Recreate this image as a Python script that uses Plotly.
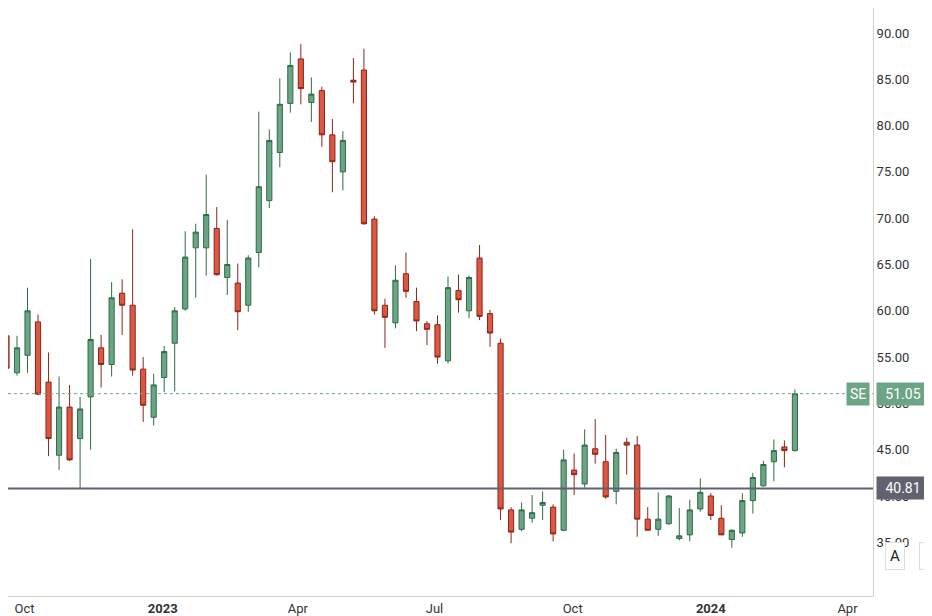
import pandas as pd
import plotly.graph_objects as go

# weekly bars, starting week of 2022-09-19
start = "2022-09-19"
opens = [57.3, 53.3, 55.2, 58.8, 52.3, 44.4, 49.6, 46.2, 50.7, 56.0,
         54.2, 61.9, 60.6, 53.7, 48.5, 52.8, 56.5, 60.2, 66.8, 66.8,
         68.9, 63.6, 63.0, 60.6, 66.3, 71.9, 77.1, 82.4, 87.2, 82.5,
         83.8, 79.0, 75.0, 84.9, 86.0, 69.9, 60.6, 58.7, 64.0, 61.0,
         58.6, 58.5, 54.6, 62.2, 60.0, 65.7, 59.7, 56.5, 38.5, 36.4,
         37.6, 39.0, 38.8, 36.3, 42.8, 41.3, 45.1, 43.7, 40.5, 45.8,
         45.5, 37.5, 36.4, 37.0, 35.4, 35.8, 38.6, 40.0, 37.6, 35.3,
         36.0, 39.5, 41.1, 43.7, 45.3, 44.9]
highs = [58.0, 57.3, 62.5, 59.6, 55.5, 52.9, 52.0, 50.7, 65.6, 57.4,
         63.1, 63.4, 68.8, 55.0, 53.2, 56.2, 60.4, 68.6, 69.4, 74.7,
         71.2, 69.8, 65.1, 66.0, 81.5, 79.6, 85.1, 87.9, 88.8, 85.2,
         84.2, 80.7, 79.4, 87.3, 88.3, 70.2, 61.3, 64.9, 66.3, 62.5,
         58.9, 59.5, 63.7, 63.9, 63.8, 67.1, 60.1, 57.0, 38.8, 39.3,
         40.1, 40.5, 39.1, 45.0, 44.6, 47.2, 48.3, 46.6, 45.1, 46.3,
         46.5, 38.8, 40.4, 40.1, 38.7, 39.6, 41.9, 40.3, 39.0, 36.4,
         40.3, 42.5, 43.8, 46.1, 46.0, 51.5]
lows = [54.0, 53.0, 53.3, 50.9, 44.3, 42.8, 43.8, 40.8, 45.0, 51.7,
        52.9, 57.4, 53.0, 48.0, 47.6, 51.2, 51.3, 60.0, 61.4, 63.8,
        63.8, 61.7, 57.9, 59.9, 64.7, 71.1, 75.5, 81.4, 82.3, 80.4,
        77.7, 72.8, 73.0, 82.4, 69.3, 59.6, 56.0, 58.1, 61.4, 57.8,
        56.3, 54.3, 54.3, 59.8, 59.2, 59.0, 56.1, 37.4, 34.9, 36.2,
        37.1, 37.4, 35.1, 36.2, 40.1, 40.9, 43.5, 39.7, 39.1, 42.3,
        35.6, 36.3, 35.7, 36.9, 35.2, 35.1, 38.3, 37.4, 35.8, 34.4,
        35.6, 38.1, 41.0, 41.6, 43.1, 44.8]
closes = [53.8, 56.0, 60.0, 51.0, 46.2, 49.6, 43.9, 49.4, 56.9, 54.2,
          61.4, 60.6, 53.6, 49.8, 52.0, 55.6, 60.0, 65.8, 68.5, 70.4,
          63.9, 65.0, 59.9, 65.7, 73.4, 78.4, 82.3, 86.5, 84.0, 83.4,
          79.0, 76.1, 78.4, 84.7, 69.4, 60.0, 59.3, 63.3, 62.1, 58.9,
          58.0, 55.0, 62.5, 61.2, 63.6, 59.4, 57.6, 38.6, 36.1, 38.5,
          38.2, 39.3, 35.9, 43.9, 42.3, 45.5, 44.5, 39.9, 44.7, 45.5,
          37.5, 36.3, 37.5, 40.0, 35.7, 38.5, 40.4, 37.9, 35.8, 36.3,
          39.5, 42.0, 43.4, 44.9, 44.9, 51.05]
dates = pd.date_range(start, periods=len(opens), freq="7D")

last_price = 51.05
level = 40.81
tick_dates = ["2022-10-01", "2023-01-01", "2023-04-01", "2023-07-01",
              "2023-10-01", "2024-01-01", "2024-04-01"]
tick_text = ["Oct", "<b>2023</b>", "Apr", "Jul", "Oct", "<b>2024</b>", "Apr"]
price_ticks = [35, 40, 45, 50, 55, 60, 65, 70, 75, 80, 85, 90]

fig = go.Figure()
fig.add_trace(go.Candlestick(
    x=dates, open=opens, high=highs, low=lows, close=closes,
    increasing=dict(fillcolor="#6ba585", line=dict(color="#2f6b47", width=1)),
    decreasing=dict(fillcolor="#dd5843", line=dict(color="#8c2418", width=1)),
    whiskerwidth=0, showlegend=False,
))

fig.add_hline(y=last_price, line=dict(color="#6ba585", width=1, dash="dot"))
fig.add_hline(y=level, line=dict(color="#60636e", width=2))

tag = dict(xref="paper", showarrow=False, font=dict(color="white", size=14,
           family="Roboto"), borderpad=3)
fig.add_annotation(x=1.004, y=last_price, text="51.05", xanchor="left",
                   width=46, bgcolor="#6ba585", **tag)
fig.add_annotation(x=0.996, y=last_price, text="SE", xanchor="right",
                   bgcolor="#6ba585", **tag)
fig.add_annotation(x=1.004, y=level, text="40.81", xanchor="left",
                   width=46, bgcolor="#60636e", **tag)
for lbl, px_ in [("A", 887), ("L", 920)]:
    fig.add_annotation(x=px_ / 865, y=0.045, text=lbl, xanchor="center",
                       xref="paper", yref="paper", showarrow=False,
                       font=dict(color="#222", size=15, family="Roboto"),
                       bgcolor="white", bordercolor="#ddd", borderpad=4)

fig.update_layout(
    width=932, height=616,
    margin=dict(l=0, r=67, t=0, b=28, autoexpand=False),
    paper_bgcolor="white", plot_bgcolor="white",
    font=dict(family="Roboto", size=13, color="#333"),
    xaxis=dict(
        range=["2022-09-20", "2024-04-18"], rangeslider=dict(visible=False),
        tickvals=tick_dates, ticktext=tick_text, showgrid=False,
        showline=True, linecolor="#d0d0d0", ticks="", zeroline=False,
        automargin=False,
    ),
    yaxis=dict(
        side="right", range=[29.2, 92.7], tickvals=price_ticks,
        tickformat=".2f", showgrid=False, showline=True,
        linecolor="#d0d0d0", ticks="", zeroline=False, automargin=False,
    ),
)

fig.write_html("out.html")
